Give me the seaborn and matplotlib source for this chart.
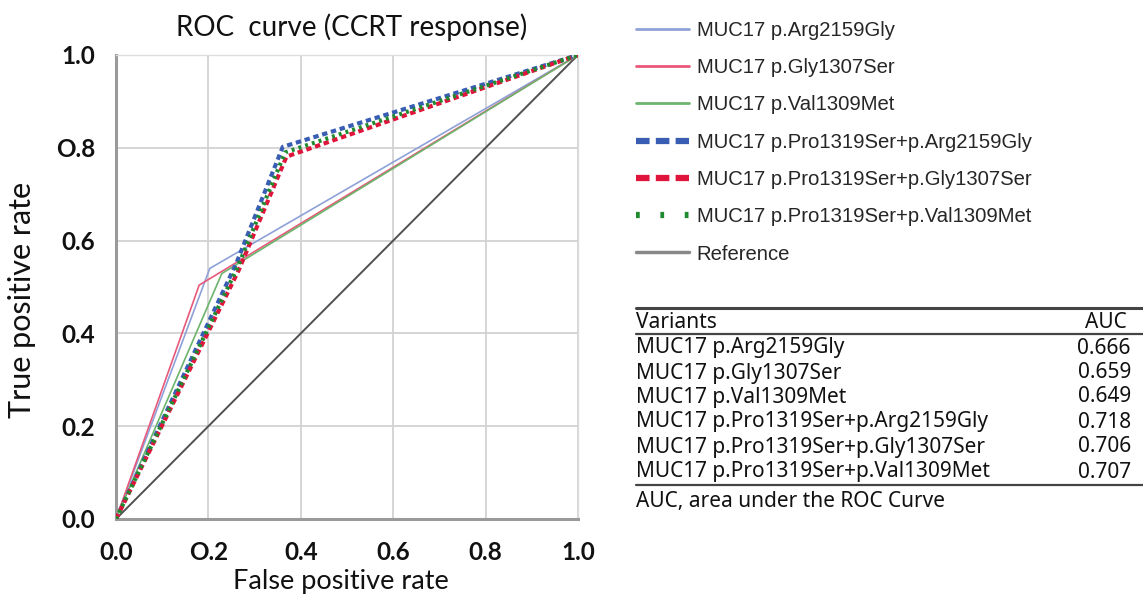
import matplotlib
matplotlib.use("Agg")
import matplotlib.pyplot as plt
from matplotlib.lines import Line2D
import seaborn as sns
import pandas as pd

# ---- data ----
series_names = [
    "MUC17 p.Arg2159Gly",
    "MUC17 p.Gly1307Ser",
    "MUC17 p.Val1309Met",
    "MUC17 p.Pro1319Ser+p.Arg2159Gly",
    "MUC17 p.Pro1319Ser+p.Gly1307Ser",
    "MUC17 p.Pro1319Ser+p.Val1309Met",
]
fpr_arg = [0.0, 0.203, 1.0]
tpr_arg = [0.0, 0.540, 1.0]
fpr_gly = [0.0, 0.180, 1.0]
tpr_gly = [0.0, 0.504, 1.0]
fpr_val = [0.0, 0.229, 1.0]
tpr_val = [0.0, 0.529, 1.0]
fpr_pro_arg = [0.0, 0.260, 0.361, 1.0]
tpr_pro_arg = [0.0, 0.550, 0.802, 1.0]
fpr_pro_gly = [0.0, 0.265, 0.369, 1.0]
tpr_pro_gly = [0.0, 0.535, 0.781, 1.0]
fpr_pro_val = [0.0, 0.262, 0.366, 1.0]
tpr_pro_val = [0.0, 0.540, 0.790, 1.0]
ref_x = [0.0, 1.0]
ref_y = [0.0, 1.0]

auc_values = ["0.666", "0.659", "0.649", "0.718", "0.706", "0.707"]
x_tick_vals = [0.0, 0.2, 0.4, 0.6, 0.8, 1.0]
x_tick_labels = ["0.0", "O.2", "0.4", "0.6", "0.8", "1.0"]
y_tick_vals = [0.0, 0.2, 0.4, 0.6, 0.8, 1.0]
y_tick_labels = ["0.0", "0.2", "0.4", "0.6", "O.8", "1.0"]

# ---- styles ----
colors = ["#8ea1d8", "#e8587a", "#6cb46c", "#3a5db4", "#e0153c", "#1f8a2e"]
sns.set_theme(style="white")
plt.rcParams["font.family"] = ["Lato", "DejaVu Sans"]

W, H = 1143, 598
fig = plt.figure(figsize=(W / 100, H / 100), dpi=100)
ax = fig.add_axes([116 / W, (H - 519) / H, 462 / W, 464 / H])

curves = [
    (fpr_arg, tpr_arg), (fpr_gly, tpr_gly), (fpr_val, tpr_val),
    (fpr_pro_arg, tpr_pro_arg), (fpr_pro_gly, tpr_pro_gly), (fpr_pro_val, tpr_pro_val),
]
plot_styles = [
    dict(lw=1.2, dashes=None),
    dict(lw=1.2, dashes=None),
    dict(lw=1.2, dashes=None),
    dict(lw=3.0, dashes=(1.3, 0.9)),
    dict(lw=3.0, dashes=(1.3, 0.9)),
    dict(lw=3.0, dashes=(0.7, 1.0)),
]

# reference
sns.lineplot(x=ref_x, y=ref_y, ax=ax, color="#505050", lw=1.4, sort=False,
             estimator=None, zorder=2)

for i, ((fx, ty), st) in enumerate(zip(curves, plot_styles)):
    df = pd.DataFrame({"fpr": fx, "tpr": ty})
    sns.lineplot(data=df, x="fpr", y="tpr", ax=ax, color=colors[i],
                 lw=st["lw"], sort=False, estimator=None, zorder=3 + i)
    ln = ax.lines[-1]
    if st["dashes"] is not None:
        ln.set_dashes(st["dashes"])
        ln.set_dash_capstyle("butt")

ax.set_xlim(0, 1)
ax.set_ylim(0, 1)
ax.set_xticks(x_tick_vals)
ax.set_xticklabels(x_tick_labels)
ax.set_yticks(y_tick_vals)
ax.set_yticklabels(y_tick_labels)
ax.tick_params(axis="both", length=0, labelsize=17.5, colors="#111111")
ax.tick_params(axis="x", pad=16)
ax.tick_params(axis="y", pad=15)
for lab in ax.get_xticklabels() + ax.get_yticklabels():
    lab.set_fontweight("bold")

ax.grid(True, color="#d2d2d2", lw=1.3)
ax.set_axisbelow(True)
for side in ["left", "bottom"]:
    ax.spines[side].set_color("#9a9a9a")
    ax.spines[side].set_linewidth(2.2)
for side in ["top", "right"]:
    ax.spines[side].set_color("#dddddd")
    ax.spines[side].set_linewidth(1.0)

ax.set_xlabel("False positive rate", fontsize=19.5, color="#111111")
ax.xaxis.set_label_coords((341 - 116) / 462, (519 - 569) / 464)
ax.set_ylabel("True positive rate", fontsize=22, color="#111111")
ax.yaxis.set_label_coords((36 - 116) / 462, (519 - 300) / 464)

fig.text(352 / W, 1 - 27 / H, "ROC  curve (CCRT response)", ha="center",
         va="center", fontsize=20, color="#111111")

# ---- legend ----
leg_handles = [
    Line2D([], [], color=colors[0], lw=2),
    Line2D([], [], color=colors[1], lw=2),
    Line2D([], [], color=colors[2], lw=2),
    Line2D([], [], color=colors[3], lw=4.5, dashes=(2.17, 1.0), dash_capstyle="butt"),
    Line2D([], [], color=colors[4], lw=4.5, dashes=(2.17, 1.0), dash_capstyle="butt"),
    Line2D([], [], color=colors[5], lw=4.5, dashes=(0.6, 3.3), dash_capstyle="butt"),
    Line2D([], [], color="#888888", lw=2.5),
]
leg_labels = series_names + ["Reference"]
fig.legend(leg_handles, leg_labels, loc="upper left",
           bbox_to_anchor=(636 / W, 1 - 21 / H), frameon=False,
           prop={"family": ["Liberation Sans", "DejaVu Sans"], "size": 14.6},
           handlelength=2.6, handletextpad=0.4, labelspacing=0.9,
           borderpad=0, borderaxespad=0)

# ---- table ----
tfont = ["Noto Sans", "DejaVu Sans"]
tsize = 15
x0, x1 = 636 / W, 1.0
for yy, lw in [(308, 2.2), (334, 1.6), (485, 1.6)]:
    fig.add_artist(Line2D([x0, x1], [1 - yy / H, 1 - yy / H], color="#444444",
                          lw=lw, transform=fig.transFigure))
fig.text(x0, 1 - 322 / H, "Variants", ha="left", va="center", fontsize=tsize,
         family=tfont, color="#111111")
fig.text(1127 / W, 1 - 322 / H, "AUC", ha="right", va="center", fontsize=tsize,
         family=tfont, color="#111111")
row_y = [348, 373, 397, 422, 447, 472]
for name, auc, yy in zip(series_names, auc_values, row_y):
    fig.text(x0, 1 - yy / H, name, ha="left", va="center", fontsize=tsize,
             family=tfont, color="#111111")
    fig.text(1131 / W, 1 - yy / H, auc, ha="right", va="center", fontsize=tsize,
             family=tfont, color="#111111")
fig.text(x0, 1 - 502 / H, "AUC, area under the ROC Curve", ha="left",
         va="center", fontsize=tsize, family=tfont, color="#111111")

fig.savefig("out.png", dpi=100)
